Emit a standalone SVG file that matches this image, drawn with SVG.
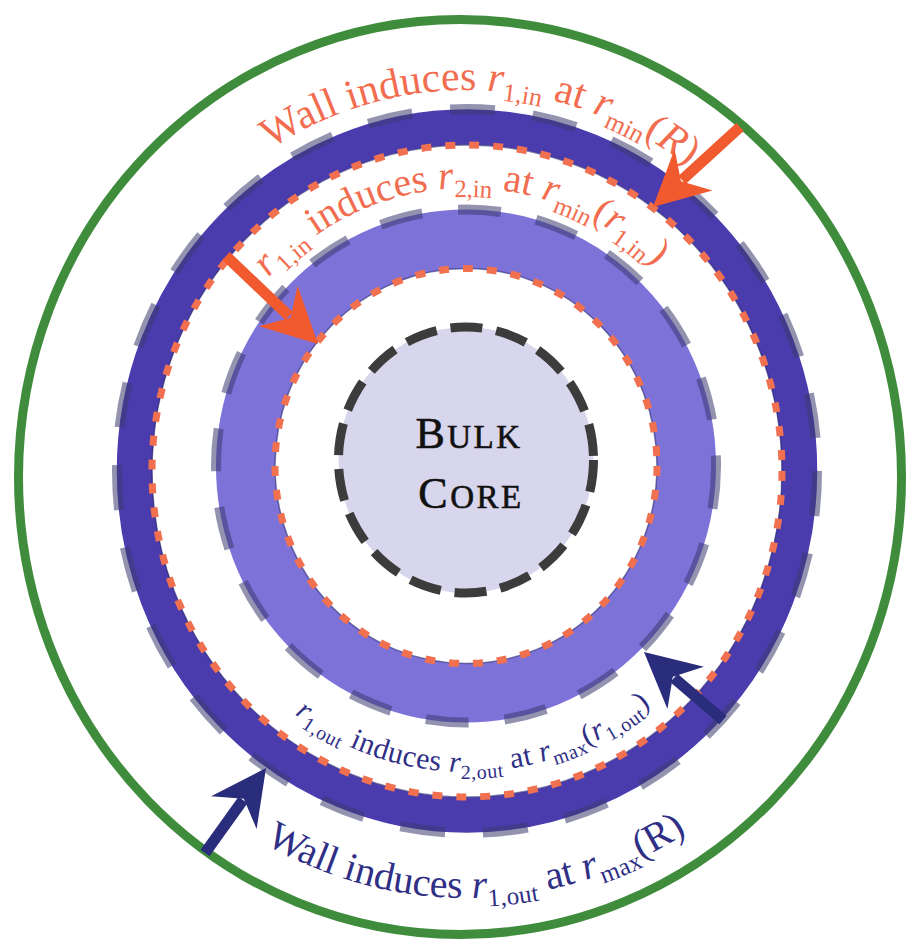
<svg xmlns="http://www.w3.org/2000/svg" width="913" height="952" viewBox="0 0 913 952">
<style>
.band-dark{fill:none;stroke:#4b3cae;stroke-width:35.5}
.band-light{fill:none;stroke:#7d72d8;stroke-width:59}
.edge-dash{fill:none;stroke:#3a3a70;stroke-opacity:0.55;stroke-width:10;stroke-dasharray:45 38}
.red-dots{fill:none;stroke:#f0704f;stroke-width:7;stroke-dasharray:10 14}
.thin-edge{fill:none;stroke:#2a2a70;stroke-width:1.5;stroke-opacity:0.6}
.lbl{font-family:"Liberation Serif","DejaVu Serif",serif}
.orange{fill:#f26d50}
.navy{fill:#2f2f86}
.it{font-style:italic}
.core-txt{fill:#111;stroke:#111;stroke-width:0.6}
.shaft-o{stroke:#f15a2e;stroke-width:11}
.shaft-n{stroke:#2a2c7c;stroke-width:11}
</style>
<defs>
<path id="head" d="M0,0 L-55,-28 L-38,0 L-55,28 Z"/>
<path id="p1" d="M 99 471 A 368 381 0 0 1 835 471"/>
<path id="p2" d="M 196 468 A 271 280 0 0 1 738 468"/>
<path id="p3" d="M 173 468 A 294 304 0 0 0 761 468"/>
<path id="p4" d="M 54 471 A 413 427 0 0 0 880 471"/>
</defs>
<rect width="913" height="952" fill="#ffffff"/>
<g id="wall">
<ellipse cx="460" cy="477" rx="441.5" ry="457.5" fill="none" stroke="#3e8c3c" stroke-width="9"/>
</g>
<g id="outer-band">
<ellipse class="band-dark" cx="467" cy="471" rx="332.5" ry="344"/>
<ellipse class="edge-dash" cx="467" cy="471" rx="350" ry="362"/>
<ellipse class="thin-edge" cx="467" cy="471" rx="315" ry="326"/>
<ellipse class="red-dots" cx="467" cy="471" rx="315" ry="326"/>
</g>
<g id="inner-band">
<ellipse class="band-light" cx="466" cy="466" rx="220.5" ry="227"/>
<ellipse class="edge-dash" style="stroke-dasharray:43 36" cx="466" cy="466" rx="250" ry="256.5"/>
<ellipse class="thin-edge" cx="466" cy="466" rx="191" ry="197.5"/>
<ellipse class="red-dots" cx="466" cy="466" rx="191" ry="197.5"/>
</g>
<g id="core">
<ellipse cx="466" cy="460" rx="127.5" ry="133" fill="#d8d6ec" stroke="#3c3c3c" stroke-width="9" stroke-dasharray="32 14"/>
<text class="lbl core-txt" x="469" y="448" text-anchor="middle" letter-spacing="2.5"><tspan font-size="44">B</tspan><tspan font-size="33">ULK</tspan></text>
<text class="lbl core-txt" x="471" y="508" text-anchor="middle" letter-spacing="2.5"><tspan font-size="44">C</tspan><tspan font-size="33">ORE</tspan></text>
</g>
<g id="label-wall-in" class="lbl orange">
<text font-size="42"><textPath href="#p1" startOffset="603" text-anchor="middle">Wall induces <tspan class="it">r</tspan><tspan font-size="26" dy="9">1,in</tspan><tspan dy="-9"> at </tspan><tspan class="it">r</tspan><tspan font-size="26" dy="9">min</tspan><tspan dy="-9">(</tspan><tspan class="it">R</tspan>)</textPath></text>
</g>
<g id="label-r1in" class="lbl orange">
<text font-size="40"><textPath href="#p2" startOffset="425" text-anchor="middle"><tspan class="it">r</tspan><tspan font-size="25" dy="9">1,in</tspan><tspan dy="-9"> induces </tspan><tspan class="it">r</tspan><tspan font-size="25" dy="9">2,in</tspan><tspan dy="-9"> at </tspan><tspan class="it">r</tspan><tspan font-size="25" dy="9">min</tspan><tspan dy="-9">(</tspan><tspan class="it">r</tspan><tspan font-size="25" dy="9">1,in</tspan><tspan dy="-9">)</tspan></textPath></text>
</g>
<g id="label-r1out" class="lbl navy">
<text font-size="30" letter-spacing="0.5"><textPath href="#p3" startOffset="477" text-anchor="middle"><tspan class="it">r</tspan><tspan font-size="20" dy="7">1,out</tspan><tspan dy="-7"> induces </tspan><tspan class="it">r</tspan><tspan font-size="20" dy="7">2,out</tspan><tspan dy="-7"> at </tspan><tspan class="it">r</tspan><tspan font-size="20" dy="7">max</tspan><tspan dy="-7">(</tspan><tspan class="it">r</tspan><tspan font-size="20" dy="7">1,out</tspan><tspan dy="-7">)</tspan></textPath></text>
</g>
<g id="label-wall-out" class="lbl navy">
<text font-size="40"><textPath href="#p4" startOffset="670" text-anchor="middle">Wall induces <tspan class="it">r</tspan><tspan font-size="25" dy="9">1,out</tspan><tspan dy="-9"> at </tspan><tspan class="it">r</tspan><tspan font-size="25" dy="9">max</tspan><tspan dy="-9">(R)</tspan></textPath></text>
</g>
<g id="connectors">
<line class="shaft-o" x1="740" y1="127" x2="682" y2="180"/>
<use href="#head" fill="#f15a2e" transform="translate(653,207) rotate(137.4)"/>
<line class="shaft-o" x1="226" y1="256" x2="289" y2="316"/>
<use href="#head" fill="#f15a2e" transform="translate(318,344) rotate(43.7)"/>
<line class="shaft-n" x1="723" y1="720" x2="674" y2="678"/>
<use href="#head" fill="#2a2c7c" transform="translate(644,652) rotate(220.7)"/>
<line class="shaft-n" x1="205" y1="853" x2="243" y2="800"/>
<use href="#head" fill="#2a2c7c" transform="translate(266,768) rotate(-54.3)"/>
</g>
</svg>
